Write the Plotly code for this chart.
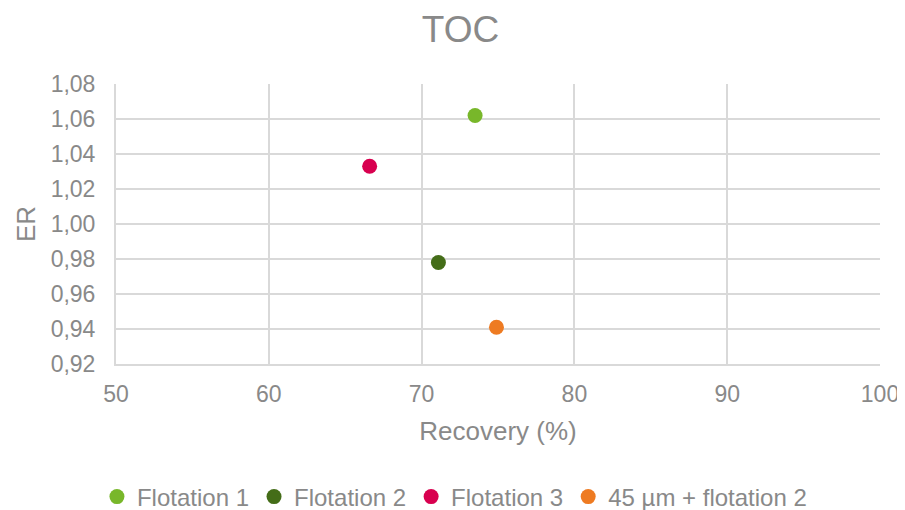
import plotly.graph_objects as go

series_names = ["Flotation 1", "Flotation 2", "Flotation 3", "45 µm + flotation 2"]
recovery = [73.5, 71.1, 66.6, 74.9]
er_values = [1.062, 0.978, 1.033, 0.941]
colors = ["#78B72A", "#446D18", "#D8004F", "#EE7B22"]

fig = go.Figure()
for name, x, y, c in zip(series_names, recovery, er_values, colors):
    fig.add_trace(go.Scatter(x=[x], y=[y], mode="markers", name=name,
                             marker=dict(color=c, size=15, line=dict(width=0))))

grid = "#D9D9D9"
txt = "#898989"
fig.update_layout(
    width=905, height=510,
    paper_bgcolor="white", plot_bgcolor="white",
    separators=",.",
    font=dict(family="Liberation Sans, Arial, sans-serif", color=txt, size=23),
    title=dict(text="TOC", x=0.5, xanchor="center", y=0.958, yanchor="middle",
               font=dict(size=37, color=txt)),
    margin=dict(l=108, r=33, t=76, b=154, autoexpand=False),
    xaxis=dict(range=[50, 100], dtick=10, showgrid=True, gridcolor=grid, gridwidth=2,
               zeroline=False, showline=True, linecolor=grid, linewidth=2,
               tickfont=dict(size=23, color=txt), ticks="", ticklabelstandoff=8,
               title=dict(text="Recovery (%)", font=dict(size=26, color=txt), standoff=16)),
    yaxis=dict(range=[0.92, 1.08], dtick=0.02, tickformat=".2f", showgrid=True,
               gridcolor=grid, gridwidth=2, zeroline=False, showline=True,
               linecolor=grid, linewidth=2, tickfont=dict(size=23, color=txt), ticks="",
               ticklabelstandoff=14,
               title=dict(text="ER", font=dict(size=26, color=txt), standoff=8)),
    legend=dict(orientation="h", x=0.443, xanchor="center", y=-0.475, yanchor="middle",
                font=dict(size=24, color=txt)),
    showlegend=True,
)
fig.write_html("out.html")
